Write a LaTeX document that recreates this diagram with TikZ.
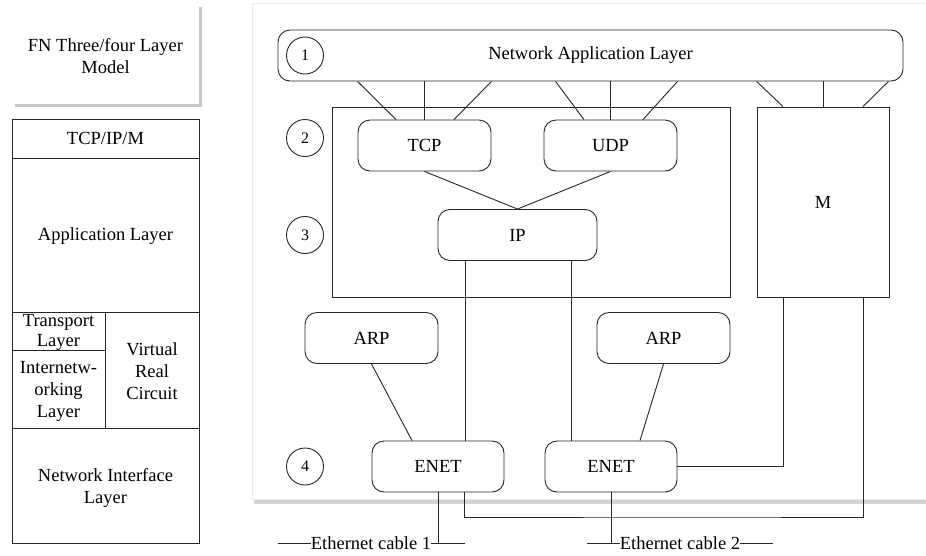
\documentclass[tikz,border=0pt]{standalone}
\usepackage{fontspec}
\setmainfont{Liberation Serif}
\usetikzlibrary{shadows,calc}
\begin{document}
\begin{tikzpicture}[x=1pt,y=-1pt,
  every node/.append style={font=\fontsize{18.5}{22}\selectfont},
  ln/.style={draw=black!85, line width=0.9pt},
  wire/.style={draw=black!85, line width=0.9pt},
  rbox/.style={ln, rounded corners=12pt, minimum width=133pt, minimum height=51pt, inner sep=0pt},
  sqbox/.style={ln, inner sep=0pt},
  num/.style={ln, circle, minimum size=37pt, inner sep=0pt, font=\fontsize{16}{18}\selectfont},
  lbl/.style={inner sep=0pt, align=center},
  cable/.style={inner sep=0pt}
]
\useasboundingbox (0,0) rectangle (926,555);
% shadowed panels
\path[fill=white, draw=black!8, drop shadow={shadow xshift=2pt, shadow yshift=-5pt, opacity=0.35}] (252,3) rectangle (945,499);
\path[fill=white, drop shadow={shadow xshift=3pt, shadow yshift=-3pt, opacity=0.45}] (12,4) rectangle (199,104);
\node[lbl] (title) at (105.5,56.5) {FN Three/four Layer\\Model};

% left column
\draw[ln] (12,119) rectangle (199,543);
\draw[ln] (12,158) -- (199,158);
\draw[ln] (12,312) -- (199,312);
\draw[ln] (12,428) -- (199,428);
\draw[ln] (12,350) -- (105,350);
\draw[ln] (105,312) -- (105,428);
\node[lbl] (tim) at (105.5,138.5) {TCP/IP/M};
\node[lbl] (appl) at (105.5,236) {Application Layer};
\node[lbl, font=\fontsize{18.5}{20}\selectfont] (trl) at (58.5,332) {Transport\\Layer};
\node[lbl] (inl) at (58.5,391) {Internetw-\\orking\\Layer};
\node[lbl] (vrc) at (152,371) {Virtual\\Real\\Circuit};
\node[lbl] (nil) at (105.5,487.5) {Network Interface\\Layer};

% right diagram
\node[rbox, minimum width=625pt] (nal) at (590.5,55.5) {Network Application Layer};
\node[num] (c1) at (305,55.5) {1};
\node[num] (c2) at (305,138) {2};
\node[num] (c3) at (305,235) {3};
\node[num] (c4) at (305,466.5) {4};

\node[sqbox, minimum width=398pt, minimum height=190pt] (core) at (531,202) {};
\node[sqbox, minimum width=132pt, minimum height=190pt] (m) at (823,202) {M};
\node[rbox] (tcp) at (424.5,145.5) {TCP};
\node[rbox] (udp) at (610.5,145.5) {UDP};
\node[rbox, minimum width=159pt] (ip) at (517.5,235) {IP};
\node[rbox] (arp1) at (371.5,338) {ARP};
\node[rbox] (arp2) at (663.5,338) {ARP};
\node[rbox, minimum width=132pt] (enet1) at (438,466.5) {ENET};
\node[rbox, minimum width=132pt] (enet2) at (611,466.5) {ENET};

% application layer to TCP / UDP / M
\draw[wire] (nal.south -| tcp.west) -- ([xshift=-28.5pt]tcp.north);
\draw[wire] (tcp.north |- nal.south) -- (tcp.north);
\draw[wire] (nal.south -| tcp.east) -- ([xshift=29.5pt]tcp.north);
\draw[wire] ($(nal.south -| udp.west)+(12,0)$) -- ([xshift=-26.5pt]udp.north);
\draw[wire] (udp.north |- nal.south) -- (udp.north);
\draw[wire] (nal.south -| udp.east) -- ([xshift=32.5pt]udp.north);
\draw[wire] (nal.south -| m.west) -- ([xshift=-40pt]m.north);
\draw[wire] (m.north |- nal.south) -- (m.north);
\draw[wire] ($(nal.south -| m.east)+(-1,0)$) -- ([xshift=40pt]m.north);

% transport to IP
\draw[wire] (tcp.south) -- (ip.north);
\draw[wire] (udp.south) -- (ip.north);

% IP to ENET
\coordinate (ipL) at ([xshift=-52.5pt]ip.south);
\coordinate (ipR) at ([xshift=53.5pt]ip.south);
\draw[wire] (ipL) -- (ipL |- enet1.north);
\draw[wire] (ipR) -- (ipR |- enet2.north);

% ARP to ENET
\draw[wire] (arp1.south) -- ([xshift=-26pt]enet1.north);
\draw[wire] (arp2.south) -- ([xshift=29pt]enet2.north);

% M to ENET
\draw[wire] (enet2.east) -| ([xshift=-40pt]m.south);
\coordinate (bus) at (700,517);
\draw[wire] ([xshift=26pt]enet1.south) |- (bus) -| ([xshift=40pt]m.south);

% Ethernet cables
\node[cable] (cab1) at (371,543) {Ethernet cable 1};
\coordinate (cab1L) at (278,543);
\coordinate (cab1R) at (465,543);
\draw[wire] (cab1L) -- (cab1.west);
\draw[wire] (cab1.east) -- (cab1R);
\draw[wire] (enet1.south) -- (enet1.south |- cab1R);

\node[cable] (cab2) at (680,543) {Ethernet cable 2};
\coordinate (cab2L) at (587,543);
\coordinate (cab2R) at (773,543);
\draw[wire] (cab2L) -- (cab2.west);
\draw[wire] (cab2.east) -- (cab2R);
\draw[wire] (enet2.south) -- (enet2.south |- cab2L);
\end{tikzpicture}
\end{document}
